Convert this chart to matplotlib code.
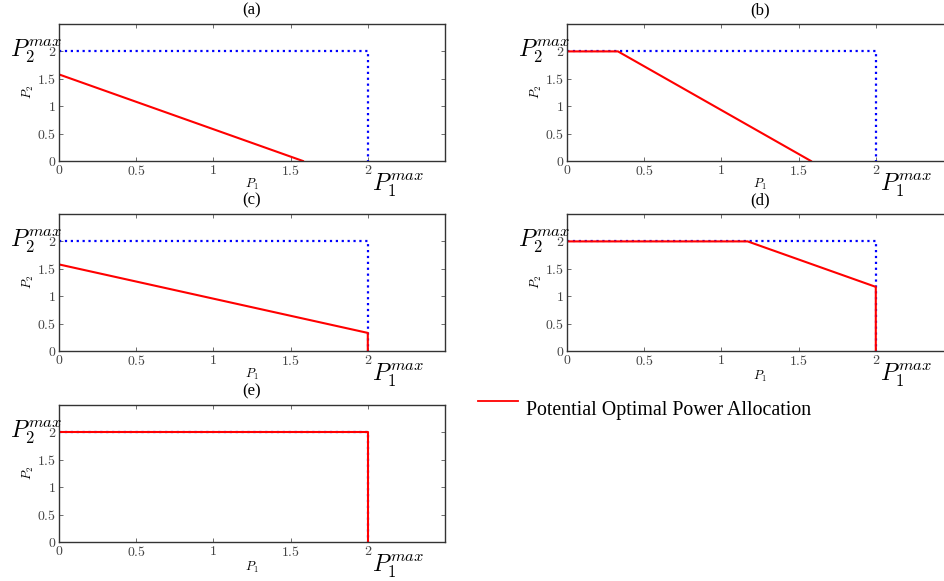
import matplotlib
matplotlib.use("Agg")
import matplotlib.pyplot as plt
from matplotlib.lines import Line2D
from matplotlib.ticker import FuncFormatter, FixedLocator

plt.rcParams["mathtext.fontset"] = "cm"
plt.rcParams["font.family"] = ["Liberation Serif", "DejaVu Serif"]

# Power limits
p1_max = 2.0
p2_max = 2.0

# Candidate optimal allocations for each case (P1 values, P2 values)
titles = ["(a)", "(b)", "(c)", "(d)", "(e)"]
opt_p1 = [
    [0.0, 1.58],
    [0.0, 0.33, 1.58],
    [0.0, 2.0, 2.0],
    [0.0, 1.17, 2.0, 2.0],
    [0.0, 2.0, 2.0],
]
opt_p2 = [
    [1.58, 0.0],
    [2.0, 2.0, 0.0],
    [1.58, 0.33, 0.0],
    [2.0, 2.0, 1.17, 0.0],
    [2.0, 2.0, 0.0],
]
ticks = [0, 0.5, 1, 1.5, 2]
legend_label = "Potential Optimal Power Allocation"

W, H = 945, 581
fig = plt.figure(figsize=(W / 100, H / 100), dpi=100)

# axes boxes in pixels: left, top, width, height
lefts = [59, 567, 59, 567, 59]
tops = [24, 24, 214, 214, 405]
aw, ah = 386, 137

tick_fmt = FuncFormatter(lambda v, p: f"${v:g}$")

for i in range(5):
    l, t = lefts[i], tops[i]
    ax = fig.add_axes([l / W, 1 - (t + ah) / H, aw / W, ah / H])
    ax.plot([0, p1_max, p1_max], [p2_max, p2_max, 0], color="blue", ls=":", lw=1.6)
    ax.plot(opt_p1[i], opt_p2[i], color="red", lw=1.5)
    ax.set_xlim(0, 2.5)
    ax.set_ylim(0, 2.5)
    ax.xaxis.set_major_locator(FixedLocator(ticks))
    ax.yaxis.set_major_locator(FixedLocator(ticks))
    ax.xaxis.set_major_formatter(tick_fmt)
    ax.yaxis.set_major_formatter(tick_fmt)
    ax.tick_params(direction="in", top=True, right=True, length=3,
                   width=0.6, labelsize=10, labelcolor="#444444",
                   color="#555555", pad=2)
    for s in ax.spines.values():
        s.set_color("#333333")
        s.set_linewidth(1.0)
    ax.set_title(titles[i], fontsize=12, pad=7)
    ax.set_xlabel("$P_1$", fontsize=9, labelpad=-1 if i < 3 else 1)
    ax.set_ylabel("$P_2$", fontsize=9, labelpad=1)
    ax.text(0.02, p2_max, r"$P_2^{max}$", fontsize=17, ha="right", va="center")
    ax.text(p1_max + 0.03, -0.08, r"$P_1^{max}$", fontsize=17, ha="left",
            va="top", transform=ax.get_xaxis_transform())

# Legend in the empty sixth panel slot
fig.add_artist(Line2D([478 / W, 518 / W], [1 - 401 / H, 1 - 401 / H],
                      color="red", lw=1.3))
fig.text(526 / W, 1 - 410 / H, legend_label, fontsize=14.3,
         ha="left", va="center")

fig.savefig("out.png", dpi=100)
